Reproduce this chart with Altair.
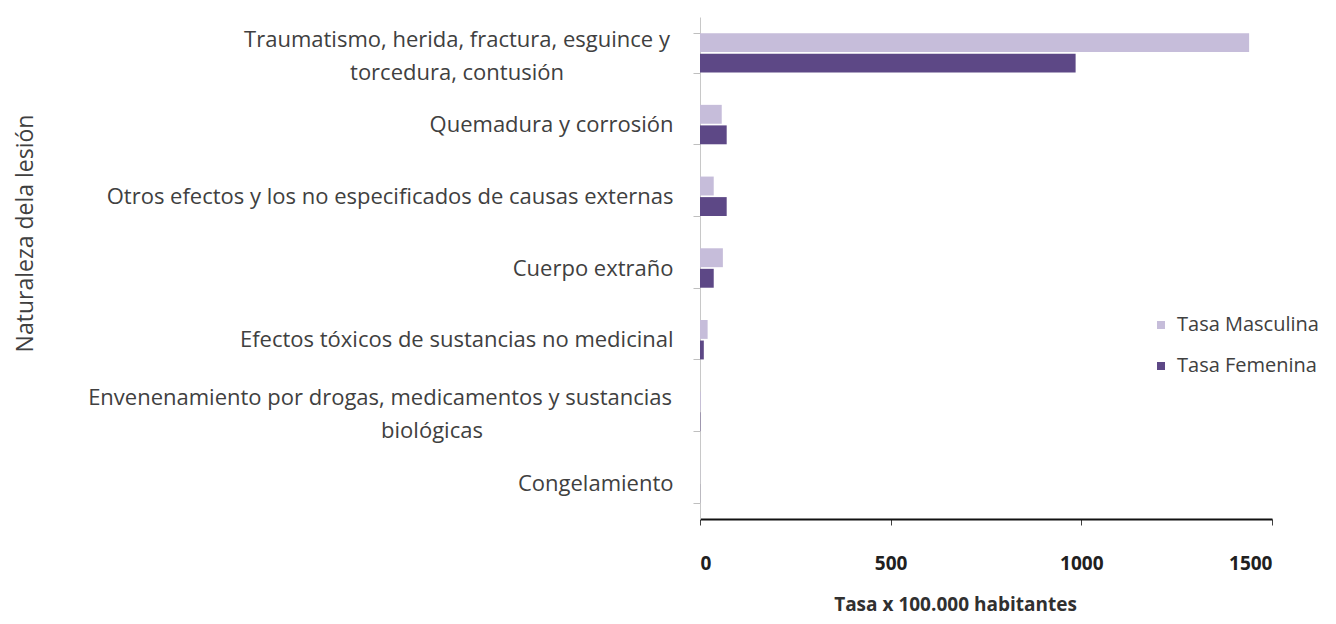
import altair as alt
import pandas as pd

categories = [
    "Traumatismo, herida, fractura, esguince y|torcedura, contusión",
    "Quemadura y corrosión",
    "Otros efectos y los no especificados de causas externas",
    "Cuerpo extraño",
    "Efectos tóxicos de sustancias no medicinal",
    "Envenenamiento por drogas, medicamentos y sustancias|biológicas",
    "Congelamiento",
]
tasa_masculina = [1440, 57, 36, 60, 20, 2, 0.5]
tasa_femenina = [985, 70, 70, 36, 10, 1, 0.3]
series = ["Tasa Masculina", "Tasa Femenina"]
colors = ["#C6BDDA", "#5D4886"]
x_ticks = [0, 500, 1000, 1500]

rows = []
for c, m, f in zip(categories, tasa_masculina, tasa_femenina):
    rows.append({"cat": c, "serie": series[0], "valor": m})
    rows.append({"cat": c, "serie": series[1], "valor": f})
df = pd.DataFrame(rows)
labels_df = pd.DataFrame({"cat": categories})

FONT = "Open Sans"
LABEL_SIZE = 22

y_enc = alt.Y("cat:N", sort=categories,
              scale=alt.Scale(paddingInner=0.45, paddingOuter=0.225),
              axis=alt.Axis(title="Naturaleza dela lesión",
                            labelExpr="indexof(datum.label, '|') >= 0 ? '' : datum.label",
                            labelFontSize=LABEL_SIZE, labelFont=FONT, labelColor="#404040",
                            labelLimit=700, labelPadding=20,
                            tickBand="extent", tickSize=7, tickColor="#bfbfbf",
                            domainColor="#c8c8c8", titleFont=FONT, titleFontSize=23,
                            titleFontWeight="normal", titleColor="#404040",
                            titleX=-675, titleY=216, titleAngle=-90,
                            titleAlign="center", titleBaseline="middle"))

bars = alt.Chart(df).mark_bar().encode(
    y=y_enc,
    yOffset=alt.YOffset("serie:N", sort=series, scale=alt.Scale(paddingInner=0.08)),
    x=alt.X("valor:Q", scale=alt.Scale(domain=[0, 1500], nice=False),
            axis=alt.Axis(title="Tasa x 100.000 habitantes", values=x_ticks, format="d", grid=False,
                          labelFontSize=19, labelFont=FONT, labelColor="#202020",
                          labelFontWeight="bold", labelPadding=29,
                          tickSize=6, tickColor="#404040", domainColor="#111111",
                          domainWidth=2, titleFont=FONT, titleFontSize=19,
                          titleFontWeight="bold", titleColor="#303030",
                          titleX=255, titleY=85, titleBaseline="middle")),
    color=alt.Color("serie:N", sort=series,
                    scale=alt.Scale(domain=series, range=colors),
                    legend=alt.Legend(title=None, orient="none", legendX=451, legendY=298,
                                      symbolType="square", symbolSize=64,
                                      symbolStrokeWidth=0, labelFontSize=20,
                                      labelFont=FONT, labelColor="#404040",
                                      rowPadding=21, labelOffset=6)),
)


def label_line(cat, line_index, x_px, align):
    return alt.Chart(labels_df).transform_filter(
        alt.datum.cat == cat
    ).transform_calculate(
        line=f"split(datum.cat, '|')[{line_index}]"
    ).mark_text(
        align=align, baseline="middle",
        font=FONT, fontSize=LABEL_SIZE, color="#404040", dy=-13 + 33 * line_index,
    ).encode(
        y=alt.Y("cat:N", sort=categories),
        x=alt.value(x_px),
        text="line:N",
    )


labels = [
    label_line(categories[0], 0, -243, "center"),
    label_line(categories[0], 1, -243, "center"),
    label_line(categories[5], 0, -28, "right"),
    label_line(categories[5], 1, -268, "center"),
]

chart = alt.layer(bars, *labels).properties(
    width=572, height=502,
    background="white",
    autosize=alt.AutoSizeParams(type="none"),
    padding={"left": 692, "top": 9, "right": 56, "bottom": 97},
).configure_view(strokeWidth=0)

chart.save("out.html", embed_options={"renderer": "svg", "actions": False})
